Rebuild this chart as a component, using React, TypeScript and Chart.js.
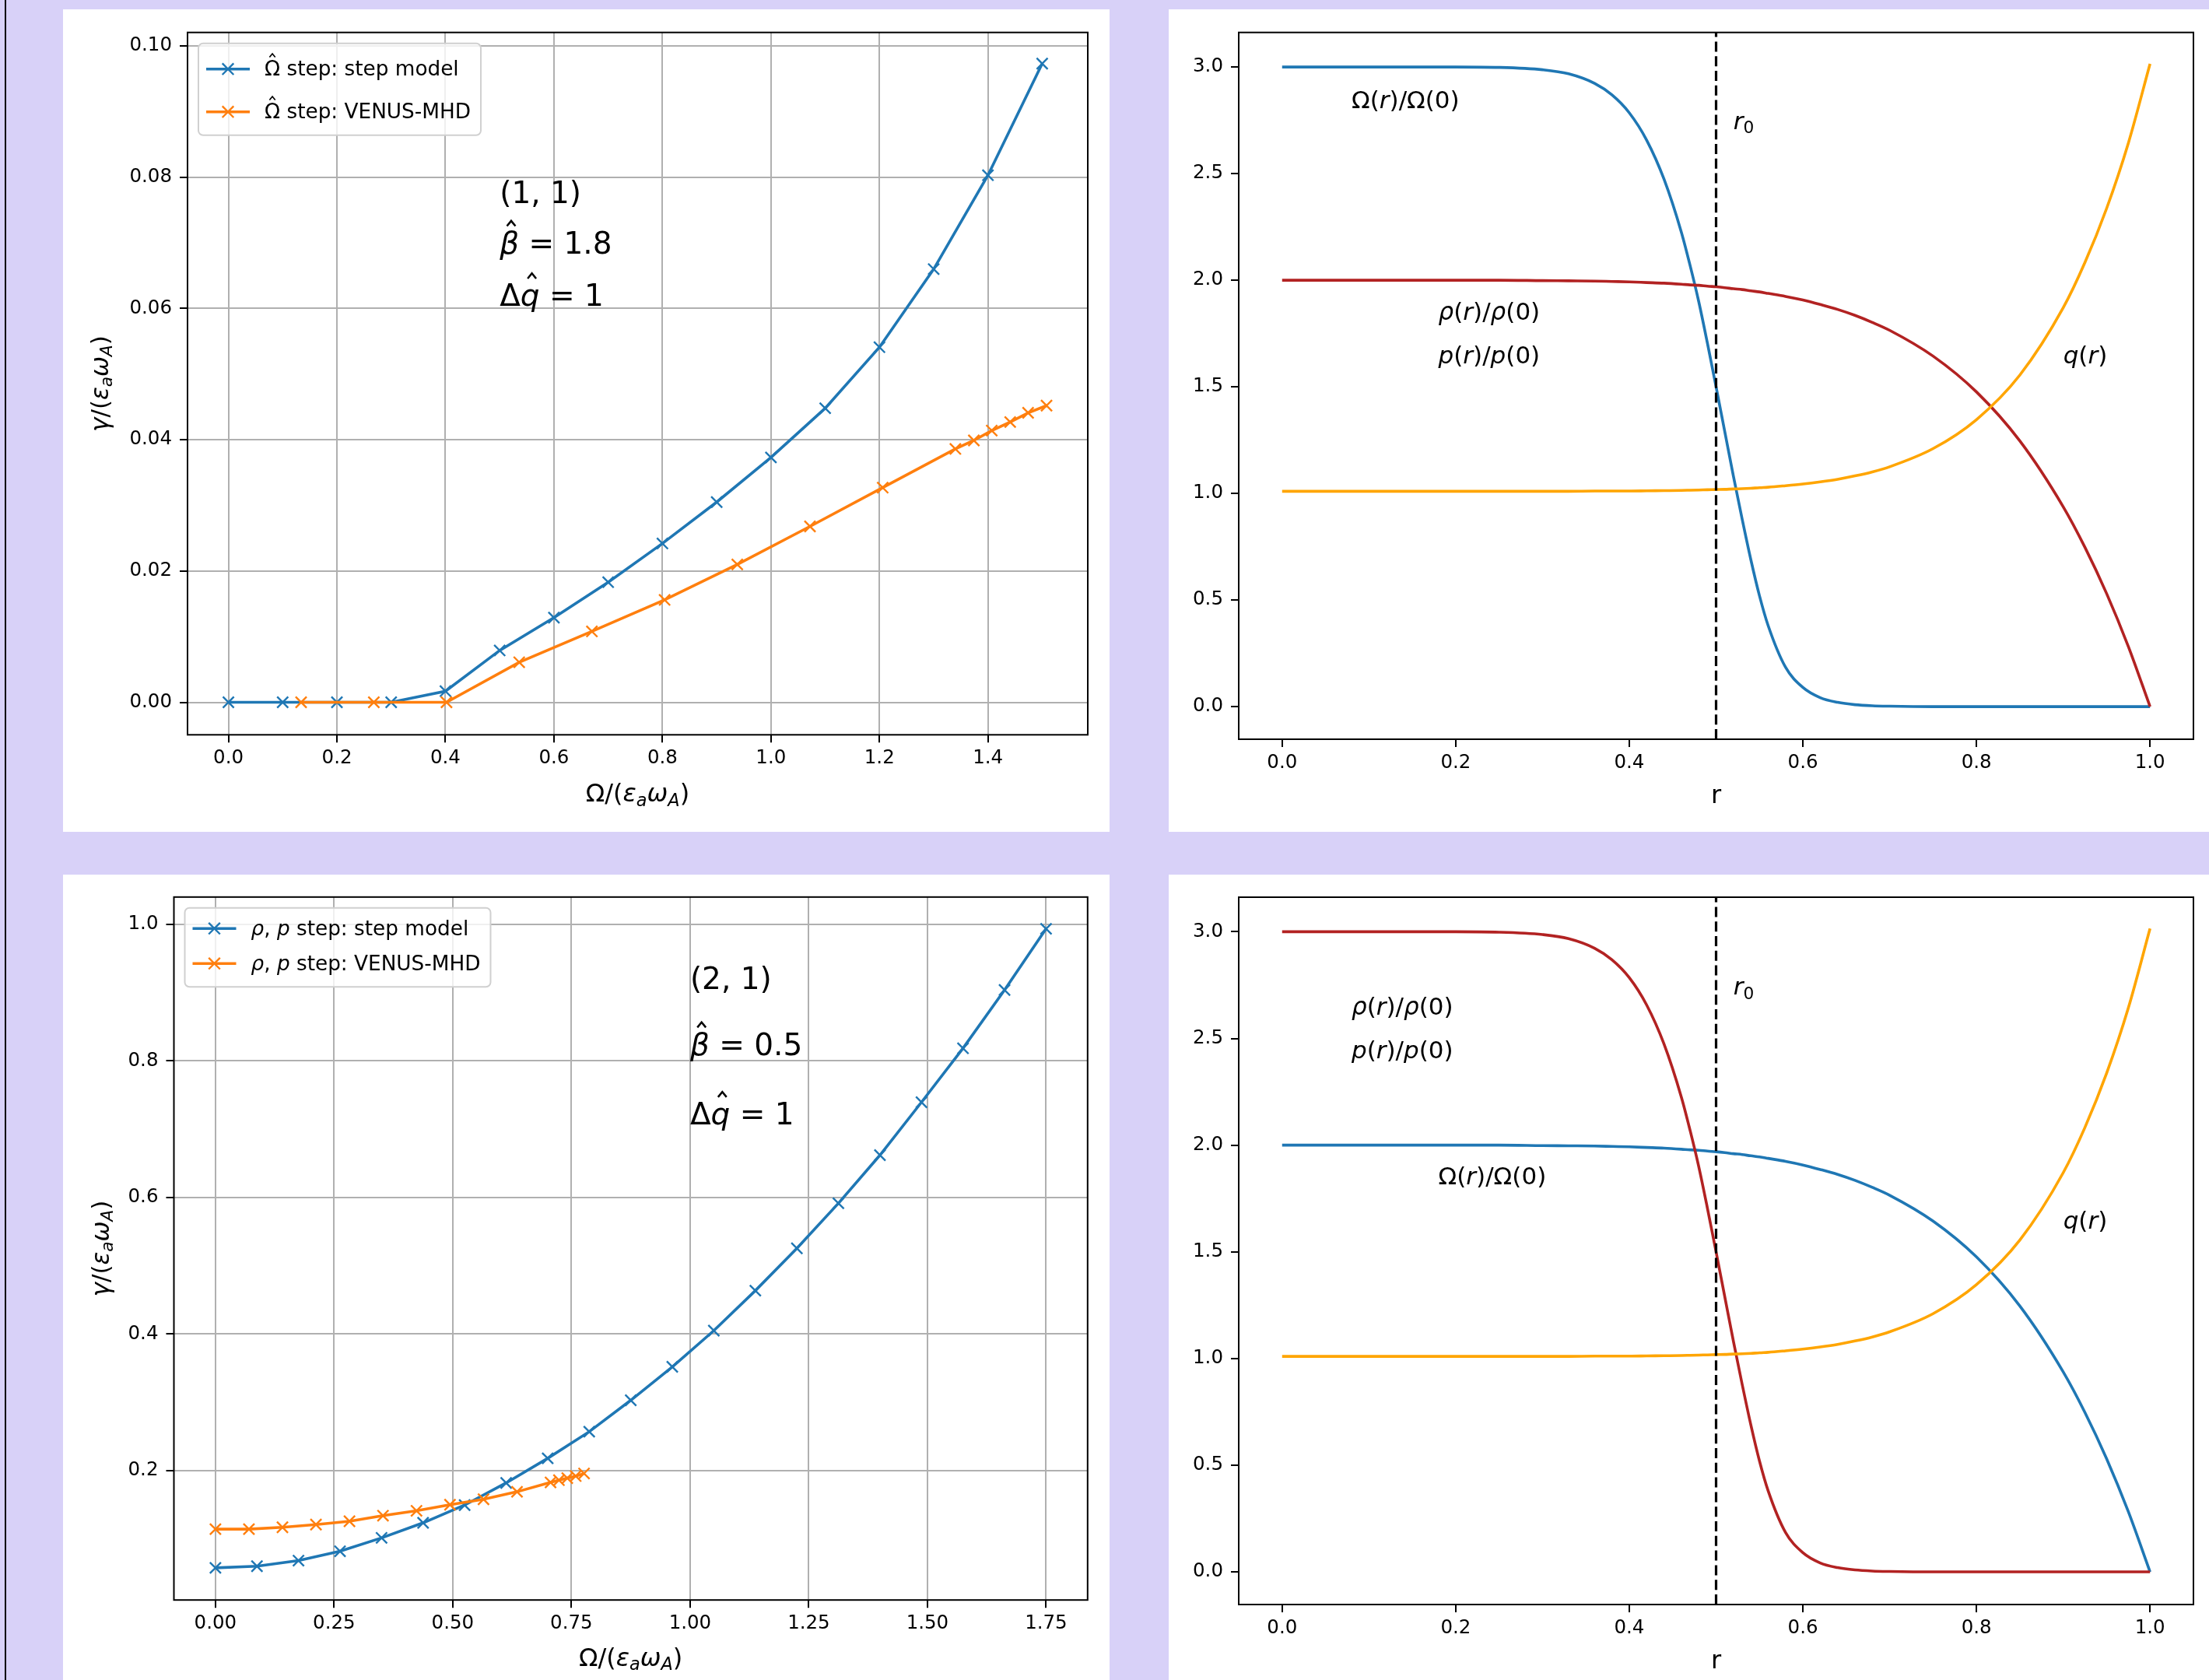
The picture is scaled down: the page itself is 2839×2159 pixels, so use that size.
import React, { useEffect, useRef } from 'react';
import { Chart, registerables } from 'chart.js';

Chart.register(...registerables);

// ---------------- data ----------------
// Upper-left panel: (1,1) mode, Omega-hat step
const omegaStepModelX = [0, 0.1, 0.2, 0.3, 0.4, 0.5, 0.6, 0.7, 0.8, 0.9, 1.0, 1.1, 1.2, 1.3, 1.4, 1.5];
const omegaStepModelY = [0, 0, 0, 0, 0.0017, 0.0079, 0.0129, 0.0183, 0.0242, 0.0305, 0.0373, 0.0448, 0.0541, 0.066, 0.0803, 0.0973];
const omegaVenusX = [0.134, 0.268, 0.402, 0.536, 0.67, 0.804, 0.938, 1.072, 1.206, 1.34, 1.374, 1.407, 1.441, 1.474, 1.508];
const omegaVenusY = [0, 0, 0, 0.0061, 0.0108, 0.0156, 0.021, 0.0268, 0.0327, 0.0386, 0.0399, 0.0414, 0.0427, 0.0441, 0.0452];

// Lower-left panel: (2,1) mode, rho,p step
const rhoStepModelX = [0, 0.0875, 0.175, 0.2625, 0.35, 0.4375, 0.525, 0.6125, 0.7, 0.7875, 0.875, 0.9625, 1.05, 1.1375, 1.225, 1.3125, 1.4, 1.4875, 1.575, 1.6625, 1.75];
const rhoStepModelY = [0.0576, 0.06, 0.0682, 0.0819, 0.1015, 0.1235, 0.1495, 0.182, 0.218, 0.257, 0.303, 0.352, 0.405, 0.4636, 0.5255, 0.5915, 0.662, 0.7395, 0.8185, 0.9039, 0.9935];
const rhoVenusX = [0, 0.0706, 0.1412, 0.2118, 0.2824, 0.353, 0.4236, 0.4942, 0.5648, 0.6354, 0.706, 0.7237, 0.7413, 0.759, 0.7766];
const rhoVenusY = [0.1143, 0.1143, 0.117, 0.121, 0.1258, 0.134, 0.1411, 0.15, 0.158, 0.169, 0.1827, 0.186, 0.189, 0.192, 0.1958];

// Right panels: radial profiles
const rGrid = [0, 0.05, 0.1, 0.15, 0.2, 0.25, 0.3, 0.33, 0.36, 0.38, 0.4, 0.42, 0.44, 0.46, 0.47, 0.48, 0.49, 0.5, 0.51, 0.52, 0.53, 0.54, 0.55, 0.56, 0.58, 0.6, 0.62, 0.64, 0.66, 0.68, 0.7, 0.75, 0.8, 0.85, 0.9, 0.925, 0.95, 0.975, 1.0];
const sharpProfile = [3, 3, 3, 3, 3, 2.998, 2.987, 2.968, 2.923, 2.869, 2.785, 2.657, 2.474, 2.225, 2.07, 1.9, 1.705, 1.5, 1.29, 1.08, 0.88, 0.69, 0.52, 0.38, 0.185, 0.09, 0.042, 0.02, 0.009, 0.004, 0.002, 0, 0, 0, 0, 0, 0, 0, 0];
const broadProfile = [2, 2, 2, 2, 2, 2.0, 1.998, 1.997, 1.996, 1.994, 1.992, 1.989, 1.986, 1.981, 1.978, 1.976, 1.972, 1.969, 1.965, 1.96, 1.956, 1.95, 1.945, 1.938, 1.924, 1.907, 1.886, 1.863, 1.835, 1.802, 1.765, 1.644, 1.476, 1.246, 0.937, 0.747, 0.53, 0.282, 0];
const qProfile = [1.01, 1.01, 1.01, 1.01, 1.01, 1.01, 1.01, 1.01, 1.011, 1.011, 1.011, 1.012, 1.013, 1.014, 1.015, 1.016, 1.017, 1.018, 1.019, 1.021, 1.022, 1.024, 1.027, 1.029, 1.036, 1.044, 1.054, 1.066, 1.082, 1.101, 1.125, 1.21, 1.346, 1.555, 1.871, 2.083, 2.337, 2.643, 3.015];
const R0 = 0.5;

// ticks
const tlXTicks = [0, 0.2, 0.4, 0.6, 0.8, 1.0, 1.2, 1.4];
const tlYTicks = [0, 0.02, 0.04, 0.06, 0.08, 0.1];
const blXTicks = [0, 0.25, 0.5, 0.75, 1.0, 1.25, 1.5, 1.75];
const blYTicks = [0.2, 0.4, 0.6, 0.8, 1.0];
const rXTicks = [0, 0.2, 0.4, 0.6, 0.8, 1.0];
const rYTicks = [0, 0.5, 1.0, 1.5, 2.0, 2.5, 3.0];

// ---------------- style ----------------
const BLUE = '#1f77b4';
const ORANGE = '#ff7f0e';
const RED = '#b22222';
const GOLD = '#ffa500';
const GRID = '#b0b0b0';
const BG = '#d8d1f8';
const FONT = '"DejaVu Sans", "Liberation Sans", sans-serif';
const TICK_SIZE = 24.5;
const TITLE_SIZE = 32;
const LEGEND_SIZE = 26.3;
const NOTE_SIZE = 39;
const PROFILE_SIZE = 31;

type Seg = { t: string; i?: boolean; s?: boolean; h?: boolean };
type Area = { l: number; t: number; r: number; b: number };

const xTitleOmega: Seg[] = [{ t: 'Ω/(' }, { t: 'ε', i: true }, { t: 'a', i: true, s: true }, { t: 'ω', i: true }, { t: 'A', i: true, s: true }, { t: ')' }];
const yTitleGamma: Seg[] = [{ t: 'γ', i: true }, { t: '/(' }, { t: 'ε', i: true }, { t: 'a', i: true, s: true }, { t: 'ω', i: true }, { t: 'A', i: true, s: true }, { t: ')' }];
const xTitleR: Seg[] = [{ t: 'r' }];

const omegaLabel: Seg[] = [{ t: 'Ω(' }, { t: 'r', i: true }, { t: ')/Ω(0)' }];
const rhoLabel: Seg[] = [{ t: 'ρ', i: true }, { t: '(' }, { t: 'r', i: true }, { t: ')/' }, { t: 'ρ', i: true }, { t: '(0)' }];
const pLabel: Seg[] = [{ t: 'p', i: true }, { t: '(' }, { t: 'r', i: true }, { t: ')/' }, { t: 'p', i: true }, { t: '(0)' }];
const qLabel: Seg[] = [{ t: 'q', i: true }, { t: '(' }, { t: 'r', i: true }, { t: ')' }];
const r0Label: Seg[] = [{ t: 'r', i: true }, { t: '0', s: true }];

function segFont(size: number, g: Seg) {
  return `${g.i ? 'italic ' : ''}${g.s ? size * 0.7 : size}px ${FONT}`;
}
function richWidth(ctx: CanvasRenderingContext2D, segs: Seg[], size: number) {
  let w = 0;
  for (const g of segs) {
    ctx.font = segFont(size, g);
    w += ctx.measureText(g.t).width;
  }
  return w;
}
function drawRich(ctx: CanvasRenderingContext2D, segs: Seg[], x: number, y: number, size: number, align: 'left' | 'center' = 'left') {
  ctx.save();
  ctx.fillStyle = '#000';
  ctx.strokeStyle = '#000';
  ctx.textAlign = 'left';
  ctx.textBaseline = 'alphabetic';
  let cx = align === 'center' ? x - richWidth(ctx, segs, size) / 2 : x;
  for (const g of segs) {
    ctx.font = segFont(size, g);
    const yy = y + (g.s ? size * 0.18 : 0);
    ctx.fillText(g.t, cx, yy);
    const w = ctx.measureText(g.t).width;
    if (g.h) {
      // circumflex accent (mathtext \hat) over the glyph
      const c = cx + w / 2 + (g.i ? size * 0.06 : 0);
      const bottom = yy - size * 0.9;
      const hw = size * 0.14;
      const hh = size * 0.17;
      ctx.lineWidth = size * 0.065;
      ctx.lineJoin = 'miter';
      ctx.beginPath();
      ctx.moveTo(c - hw, bottom);
      ctx.lineTo(c, bottom - hh);
      ctx.lineTo(c + hw, bottom);
      ctx.stroke();
    }
    cx += w;
  }
  ctx.restore();
}

type LegendItem = { color: string; segs: Seg[] };
function drawLegend(ctx: CanvasRenderingContext2D, A: any, items: LegendItem[], firstRow: number, rowGap: number, boxH: number) {
  const size = LEGEND_SIZE;
  const x0 = A.left + 14;
  const y0 = A.top + 14;
  let maxW = 0;
  for (const it of items) maxW = Math.max(maxW, richWidth(ctx, it.segs, size));
  const boxW = 85 + maxW + 13;
  ctx.save();
  ctx.beginPath();
  if ((ctx as any).roundRect) (ctx as any).roundRect(x0, y0, boxW, boxH, 6);
  else ctx.rect(x0, y0, boxW, boxH);
  ctx.fillStyle = 'rgba(255,255,255,0.8)';
  ctx.fill();
  ctx.strokeStyle = '#d0d0d0';
  ctx.lineWidth = 2;
  ctx.stroke();
  items.forEach((it, k) => {
    const cy = y0 + firstRow + k * rowGap;
    ctx.strokeStyle = it.color;
    ctx.lineWidth = 3.6;
    ctx.beginPath();
    ctx.moveTo(x0 + 10, cy);
    ctx.lineTo(x0 + 66, cy);
    ctx.stroke();
    const mx = x0 + 38;
    const d = 7.3;
    ctx.lineWidth = 2.4;
    ctx.beginPath();
    ctx.moveTo(mx - d, cy - d);
    ctx.lineTo(mx + d, cy + d);
    ctx.moveTo(mx - d, cy + d);
    ctx.lineTo(mx + d, cy - d);
    ctx.stroke();
    drawRich(ctx, it.segs, x0 + 85, cy + 8.5, size);
  });
  ctx.restore();
}

function pts(xs: number[], ys: number[]) {
  return xs.map((x, k) => ({ x, y: ys[k] }));
}
function markerSeries(xs: number[], ys: number[], color: string, order: number) {
  return {
    data: pts(xs, ys),
    showLine: true,
    borderColor: color,
    backgroundColor: color,
    borderWidth: 3.6,
    tension: 0,
    pointStyle: 'crossRot',
    pointRadius: 10,
    pointBorderWidth: 2.4,
    pointBorderColor: color,
    pointBackgroundColor: color,
    order,
  };
}
function curveSeries(xs: number[], ys: number[], color: string, order: number) {
  return {
    data: pts(xs, ys),
    showLine: true,
    borderColor: color,
    backgroundColor: color,
    borderWidth: 3.6,
    cubicInterpolationMode: 'monotone',
    pointRadius: 0,
    order,
  };
}

type Spec = {
  left: number; top: number; w: number; h: number; area: Area;
  xRange: [number, number]; yRange: [number, number];
  xTicks: number[]; yTicks: number[]; xDec: number; yDec: number;
  grid: boolean; datasets: any[];
  xTitle: Seg[]; xTitleOffset: number; yTitle?: Seg[]; yTitleX?: number;
  extras: (chart: any, ctx: CanvasRenderingContext2D) => void;
};

function frameAndTitles(chart: any, ctx: CanvasRenderingContext2D, s: Spec) {
  const A = chart.chartArea;
  ctx.save();
  ctx.strokeStyle = '#000';
  ctx.lineWidth = 2;
  ctx.strokeRect(A.left, A.top, A.right - A.left, A.bottom - A.top);
  ctx.restore();
  drawRich(ctx, s.xTitle, (A.left + A.right) / 2, A.bottom + s.xTitleOffset, TITLE_SIZE, 'center');
  if (s.yTitle && s.yTitleX !== undefined) {
    ctx.save();
    ctx.translate(s.yTitleX, (A.top + A.bottom) / 2);
    ctx.rotate(-Math.PI / 2);
    drawRich(ctx, s.yTitle, 0, 0, TITLE_SIZE - 1, 'center');
    ctx.restore();
  }
}

function buildConfig(s: Spec): any {
  const A = s.area;
  const axis = (range: [number, number], ticks: number[], dec: number, isX: boolean) => ({
    type: 'linear',
    min: range[0],
    max: range[1],
    afterBuildTicks: (sc: any) => {
      sc.ticks = ticks.map((v) => ({ value: v }));
    },
    afterFit: (sc: any) => {
      if (isX) sc.height = s.h - A.b;
      else sc.width = A.l;
    },
    grid: {
      display: true,
      drawOnChartArea: s.grid,
      drawTicks: true,
      tickLength: 10,
      tickWidth: 2,
      tickColor: '#000',
      color: GRID,
      lineWidth: 2,
    },
    border: { display: false },
    ticks: {
      autoSkip: false,
      maxRotation: 0,
      minRotation: 0,
      padding: isX ? 6 : 10,
      color: '#000',
      font: { family: FONT, size: TICK_SIZE },
      callback: (v: any) => Number(v).toFixed(dec),
    },
  });
  return {
    type: 'scatter',
    data: { datasets: s.datasets },
    options: {
      animation: false,
      responsive: false,
      maintainAspectRatio: false,
      events: [],
      layout: { padding: { left: 0, top: A.t, right: s.w - A.r, bottom: 0 } },
      plugins: { legend: { display: false }, tooltip: { enabled: false } },
      scales: {
        x: axis(s.xRange, s.xTicks, s.xDec, true),
        y: axis(s.yRange, s.yTicks, s.yDec, false),
      },
    },
    plugins: [
      {
        id: 'extras',
        afterDatasetsDraw: (chart: any) => {
          const ctx = chart.ctx as CanvasRenderingContext2D;
          s.extras(chart, ctx);
          frameAndTitles(chart, ctx, s);
        },
      },
    ],
  };
}

function drawVLine(chart: any, ctx: CanvasRenderingContext2D) {
  const A = chart.chartArea;
  const x = chart.scales.x.getPixelForValue(R0);
  ctx.save();
  ctx.strokeStyle = '#000';
  ctx.lineWidth = 3.2;
  ctx.setLineDash([13, 5.8]);
  ctx.beginPath();
  ctx.moveTo(x, A.bottom);
  ctx.lineTo(x, A.top);
  ctx.stroke();
  ctx.restore();
}

function placeText(chart: any, ctx: CanvasRenderingContext2D, segs: Seg[], x: number, y: number, size: number) {
  drawRich(ctx, segs, chart.scales.x.getPixelForValue(x), chart.scales.y.getPixelForValue(y), size);
}

const specs: Spec[] = [
  {
    left: 81, top: 12, w: 1345, h: 1057,
    area: { l: 160, t: 29.7, r: 1317, b: 932.3 },
    xRange: [-0.0754, 1.584], yRange: [-0.00495, 0.10205],
    xTicks: tlXTicks, yTicks: tlYTicks, xDec: 1, yDec: 2, grid: true,
    datasets: [
      markerSeries(omegaStepModelX, omegaStepModelY, BLUE, 1),
      markerSeries(omegaVenusX, omegaVenusY, ORANGE, 0),
    ],
    xTitle: xTitleOmega, xTitleOffset: 86, yTitle: yTitleGamma, yTitleX: 57.7,
    extras: (chart, ctx) => {
      placeText(chart, ctx, [{ t: '(1, 1)' }], 0.5, 0.0761, NOTE_SIZE);
      placeText(chart, ctx, [{ t: 'β', i: true, h: true }, { t: ' = 1.8' }], 0.5, 0.0684, NOTE_SIZE);
      placeText(chart, ctx, [{ t: 'Δ' }, { t: 'q', i: true, h: true }, { t: ' = 1' }], 0.5, 0.0604, NOTE_SIZE);
      drawLegend(ctx, chart.chartArea, [
        { color: BLUE, segs: [{ t: 'Ω', h: true }, { t: ' step: step model' }] },
        { color: ORANGE, segs: [{ t: 'Ω', h: true }, { t: ' step: VENUS-MHD' }] },
      ], 33, 55, 118);
    },
  },
  {
    left: 1502, top: 12, w: 1337, h: 1057,
    area: { l: 90, t: 29.7, r: 1317, b: 938 },
    xRange: [-0.05, 1.05], yRange: [-0.153, 3.162],
    xTicks: rXTicks, yTicks: rYTicks, xDec: 1, yDec: 1, grid: false,
    datasets: [
      curveSeries(rGrid, sharpProfile, BLUE, 2),
      curveSeries(rGrid, broadProfile, RED, 1),
      curveSeries(rGrid, qProfile, GOLD, 0),
    ],
    xTitle: xTitleR, xTitleOffset: 82,
    extras: (chart, ctx) => {
      drawVLine(chart, ctx);
      placeText(chart, ctx, omegaLabel, 0.08, 2.808, PROFILE_SIZE);
      placeText(chart, ctx, rhoLabel, 0.18, 1.815, PROFILE_SIZE);
      placeText(chart, ctx, pLabel, 0.18, 1.61, PROFILE_SIZE);
      placeText(chart, ctx, qLabel, 0.9, 1.61, PROFILE_SIZE);
      placeText(chart, ctx, r0Label, 0.52, 2.71, PROFILE_SIZE);
    },
  },
  {
    left: 81, top: 1124, w: 1345, h: 1035,
    area: { l: 142.5, t: 28.8, r: 1316.8, b: 932.2 },
    xRange: [-0.0875, 1.8375], yRange: [0.0105, 1.04],
    xTicks: blXTicks, yTicks: blYTicks, xDec: 2, yDec: 1, grid: true,
    datasets: [
      markerSeries(rhoStepModelX, rhoStepModelY, BLUE, 1),
      markerSeries(rhoVenusX, rhoVenusY, ORANGE, 0),
    ],
    xTitle: xTitleOmega, xTitleOffset: 84.5, yTitle: yTitleGamma, yTitleX: 58.5,
    extras: (chart, ctx) => {
      placeText(chart, ctx, [{ t: '(2, 1)' }], 1.0, 0.905, NOTE_SIZE);
      placeText(chart, ctx, [{ t: 'β', i: true, h: true }, { t: ' = 0.5' }], 1.0, 0.809, NOTE_SIZE);
      placeText(chart, ctx, [{ t: 'Δ' }, { t: 'q', i: true, h: true }, { t: ' = 1' }], 1.0, 0.707, NOTE_SIZE);
      drawLegend(ctx, chart.chartArea, [
        { color: BLUE, segs: [{ t: 'ρ', i: true }, { t: ', ' }, { t: 'p', i: true }, { t: ' step: step model' }] },
        { color: ORANGE, segs: [{ t: 'ρ', i: true }, { t: ', ' }, { t: 'p', i: true }, { t: ' step: VENUS-MHD' }] },
      ], 26.4, 45, 101.4);
    },
  },
  {
    left: 1502, top: 1124, w: 1337, h: 1035,
    area: { l: 90, t: 29, r: 1317, b: 938 },
    xRange: [-0.05, 1.05], yRange: [-0.153, 3.162],
    xTicks: rXTicks, yTicks: rYTicks, xDec: 1, yDec: 1, grid: false,
    datasets: [
      curveSeries(rGrid, broadProfile, BLUE, 2),
      curveSeries(rGrid, sharpProfile, RED, 1),
      curveSeries(rGrid, qProfile, GOLD, 0),
    ],
    xTitle: xTitleR, xTitleOffset: 82,
    extras: (chart, ctx) => {
      drawVLine(chart, ctx);
      placeText(chart, ctx, rhoLabel, 0.08, 2.612, PROFILE_SIZE);
      placeText(chart, ctx, pLabel, 0.08, 2.407, PROFILE_SIZE);
      placeText(chart, ctx, omegaLabel, 0.18, 1.815, PROFILE_SIZE);
      placeText(chart, ctx, qLabel, 0.9, 1.61, PROFILE_SIZE);
      placeText(chart, ctx, r0Label, 0.52, 2.705, PROFILE_SIZE);
    },
  },
];

function Panel({ spec }: { spec: Spec }) {
  const ref = useRef<HTMLCanvasElement>(null);
  useEffect(() => {
    const c = ref.current;
    if (!c) return;
    const chart = new Chart(c, buildConfig(spec));
    return () => chart.destroy();
  }, [spec]);
  return (
    <canvas
      ref={ref}
      width={spec.w}
      height={spec.h}
      style={{ position: 'absolute', left: spec.left, top: spec.top, width: spec.w, height: spec.h, background: '#fff' }}
    />
  );
}

export default function App() {
  useEffect(() => {
    document.body.style.margin = '0';
  }, []);
  return (
    <div style={{ position: 'absolute', left: 0, top: 0, width: 2839, height: 2159, background: BG, overflow: 'hidden' }}>
      <div style={{ position: 'absolute', left: 6, top: 0, width: 2, height: 2159, background: '#000' }} />
      {specs.map((s, k) => (
        <Panel key={k} spec={s} />
      ))}
    </div>
  );
}
